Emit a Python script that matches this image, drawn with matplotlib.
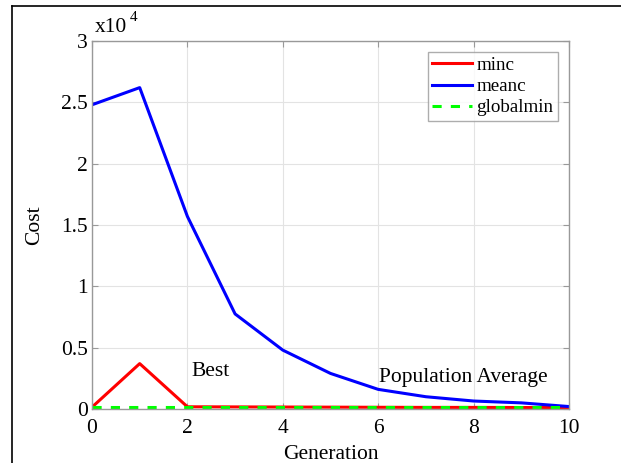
import matplotlib
matplotlib.use("Agg")
import matplotlib.pyplot as plt
from matplotlib.lines import Line2D

generation = [0, 1, 2, 3, 4, 5, 6, 7, 8, 9, 10]
minc = [150, 3700, 180, 170, 160, 150, 140, 130, 130, 120, 120]
meanc = [24800, 26200, 15700, 7750, 4800, 2900, 1600, 1000, 650, 500, 200]
globalmin = [150] * 11
x_ticks = [0, 2, 4, 6, 8, 10]
y_ticks = [0, 5000, 10000, 15000, 20000, 25000, 30000]
y_tick_labels = ["0", "0.5", "1", "1.5", "2", "2.5", "3"]

plt.rcParams['font.family'] = ['Liberation Serif', 'DejaVu Serif']

fig = plt.figure(figsize=(6.21, 4.63), dpi=100)
ax = fig.add_axes([92/621, 1-409/463, (569-92)/621, (409-41)/463])

ax.plot(generation, minc, color=(1, 0, 0), lw=2.2, label='minc')
ax.plot(generation, meanc, color=(0, 0, 1), lw=2.2, label='meanc')
ax.plot(generation, globalmin, color=(0, 1, 0), lw=2.2, ls=(0, (3, 3)), label='globalmin')

ax.set_xlim(0, 10)
ax.set_ylim(0, 30000)
ax.set_xticks(x_ticks)
ax.set_yticks(y_ticks)
ax.set_yticklabels(y_tick_labels)
ax.tick_params(direction='in', length=4, width=0.8, color='#999999', labelsize=15.5,
               top=True, right=True)
ax.tick_params(axis='x', pad=7)
ax.tick_params(axis='y', pad=3)
for s in ax.spines.values():
    s.set_color('#999999')
    s.set_linewidth(1.0)
ax.grid(True, color='#e3e3e3', lw=0.8)
ax.set_axisbelow(True)

ax.set_xlabel('Generation', fontsize=15.5, labelpad=5)
ax.set_ylabel('Cost', fontsize=15.5, labelpad=12)

ax.text(0.005, 1.012, 'x10', transform=ax.transAxes, fontsize=15.5, ha='left', va='bottom')
ax.text(0.08, 1.045, '4', transform=ax.transAxes, fontsize=11, ha='left', va='bottom')

ax.text(2.08, 2300, 'Best', fontsize=15.5, ha='left', va='bottom')
ax.text(6.02, 1800, 'Population Average', fontsize=15.5, ha='left', va='bottom')

leg = ax.legend(loc='upper right', bbox_to_anchor=(558/621, 1-52/463),
                bbox_transform=fig.transFigure, fontsize=13.7, frameon=True,
                fancybox=False, handlelength=2.1, handletextpad=0.2,
                borderpad=0.25, labelspacing=0.2, borderaxespad=0)
leg.get_frame().set_edgecolor('#999999')
leg.get_frame().set_linewidth(1.0)

fig.add_artist(Line2D([12/621, 12/621], [0, 1-5.5/463], transform=fig.transFigure, color='black', lw=1.2))
fig.add_artist(Line2D([12/621, 1], [1-5.5/463, 1-5.5/463], transform=fig.transFigure, color='black', lw=1.2))

fig.savefig('out.png', dpi=100)
